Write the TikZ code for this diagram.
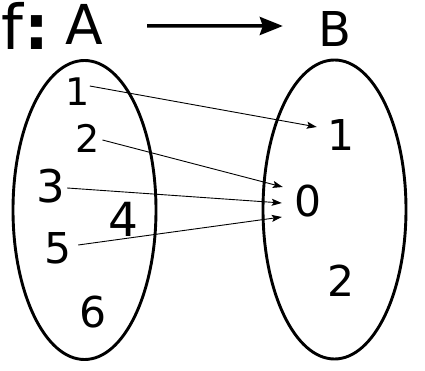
\documentclass[tikz,border=0pt]{standalone}
\usepackage{fontspec}
\setmainfont{DejaVu Sans}
\usepackage{tikz}
\usetikzlibrary{arrows.meta, shapes.geometric}

\begin{document}
\begin{tikzpicture}[
  x=1pt, y=-1pt,
  setshape/.style={draw, ellipse, line width=2.9pt, inner sep=0pt,
                   minimum width=143pt, minimum height=299pt},
  elem/.style={inner sep=0pt, font=\fontsize{42.5}{44}\selectfont},
  ttl/.style={inner sep=0pt, anchor=base},
  ar/.style={line width=0.9pt, -{Stealth[length=10pt, width=7pt, inset=2pt]}},
  bigar/.style={line width=3.5pt, -{Stealth[length=23pt, width=18pt, inset=3pt]}}
]
\useasboundingbox (0,0) rectangle (425,371);
% the two sets
\node[setshape] (setA) at (84.5,210) {};
\node[setshape] (setB) at (334.5,209.5) {};
% title
\node[ttl, anchor=base west, font=\fontsize{62}{64}\selectfont] (fname) at (1,50) {f\textbf{:}};
\node[ttl, font=\fontsize{55}{58}\selectfont] (A) at (84,45) {A};
\node[ttl, font=\fontsize{48}{50}\selectfont] (B) at (335,47) {B};
\draw[bigar] ([xshift=44pt, yshift=-1pt]A.east) -- ([xshift=-35.5pt, yshift=3.5pt]B.west);
% elements of A
\node[elem, font=\fontsize{38}{40}\selectfont] (a1) at (77.5,91.5) {1};
\node[elem, font=\fontsize{38}{40}\selectfont] (a2) at (87.5,138.5) {2};
\node[elem, font=\fontsize{45}{48}\selectfont] (a3) at (51,186.5) {3};
\node[elem, font=\fontsize{47}{50}\selectfont] (a4) at (123,219.5) {4};
\node[elem] (a5) at (58.5,248.5) {5};
\node[elem] (a6) at (93,312.5) {6};
% elements of B
\node[elem] (b1) at (341.5,135.5) {1};
\node[elem] (b0) at (308.5,201.5) {0};
\node[elem] (b2) at (341,281) {2};
% the map
\draw[ar] ([yshift=5.5pt]a1.east) -- ([xshift=-11pt, yshift=8.5pt]b1.west);
\draw[ar] ([xshift=2.7pt, yshift=-1.5pt]a2.east) -- ([xshift=-12pt, yshift=14.5pt]b0.west);
\draw[ar] ([xshift=1.7pt, yshift=-1.5pt]a3.east) -- ([xshift=-13pt, yshift=-1.5pt]b0.west);
\draw[ar] ([xshift=6pt, yshift=3.5pt]a5.east) -- ([xshift=-13pt, yshift=-15.5pt]b0.west);
\end{tikzpicture}
\end{document}
